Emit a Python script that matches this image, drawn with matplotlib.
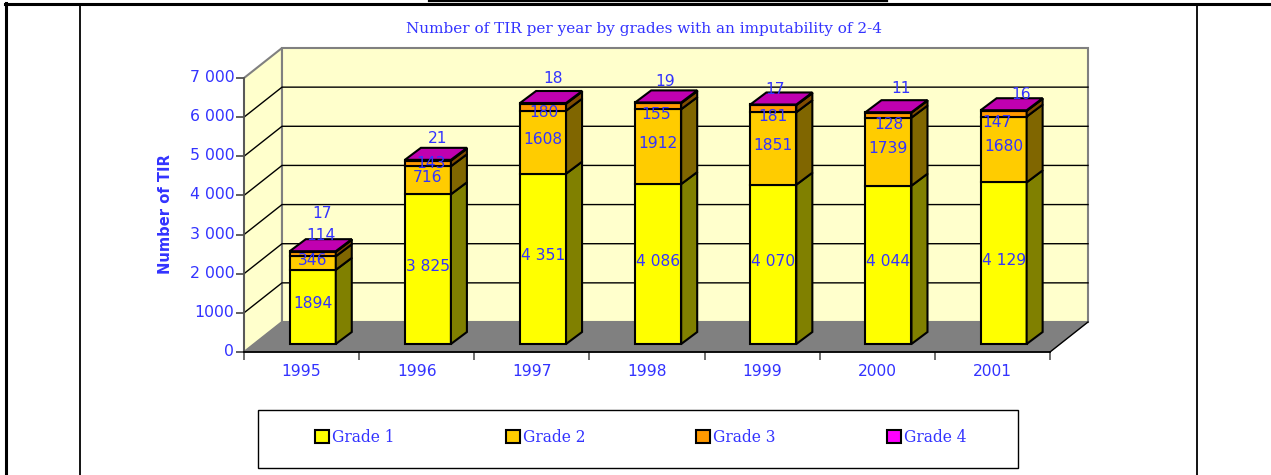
import numpy as np
import matplotlib
matplotlib.use('Agg')
import matplotlib.pyplot as plt
from matplotlib.patches import Patch, Rectangle
from matplotlib.lines import Line2D
from matplotlib.transforms import ScaledTranslation

years = ['1995', '1996', '1997', '1998', '1999', '2000', '2001']
grade1 = [1894, 3825, 4351, 4086, 4070, 4044, 4129]
grade2 = [346, 716, 1608, 1912, 1851, 1739, 1680]
grade3 = [114, 143, 180, 155, 181, 128, 147]
grade4 = [17, 21, 18, 19, 17, 11, 16]
labels1 = ['1894', '3 825', '4 351', '4 086', '4 070', '4 044', '4 129']
labels2 = ['346', '716', '1608', '1912', '1851', '1739', '1680']
labels3 = ['114', '143', '180', '155', '181', '128', '147']
labels4 = ['17', '21', '18', '19', '17', '11', '16']
series_names = ['Grade 1', 'Grade 2', 'Grade 3', 'Grade 4']
ytick_values = [0, 1000, 2000, 3000, 4000, 5000, 6000, 7000]
ytick_labels = ['0', '1000', '2 000', '3 000', '4 000', '5 000', '6 000', '7 000']
title = 'Number of TIR per year by grades with an imputability of 2-4'
ylabel = 'Number of TIR'

W, H = 1271, 475
BLUE = '#3333FF'
front = ['#FFFF00', '#FFCC00', '#FF9900', '#FF00FF']
side = ['#808000', '#806600', '#804C00', '#800080']
top_col = '#C000B0'
wall = '#FFFFCC'
floor = '#808080'

fig = plt.figure(figsize=(W / 100, H / 100), dpi=100)
fig.patch.set_facecolor('white')


def fx(px):
    return px / W


def fy(py):
    return 1 - py / H


# page table lines
for x0, y0, x1, y1, lw in [(5, 4, W, 4, 2.2), (6, 3, 6, H, 2.2), (80, 4, 80, H, 1.3),
                           (1197, 4, 1197, H, 1.3), (429, 1, 887, 1, 1.6)]:
    fig.add_artist(Line2D([fx(x0), fx(x1)], [fy(y0), fy(y1)], color='black', lw=lw))

ax = fig.add_axes([fx(244), fy(352), 806 / W, 274 / H])
ax.set_xlim(0, 7)
ax.set_ylim(0, 7000)
ax.patch.set_visible(False)
for s in ['top', 'right']:
    ax.spines[s].set_visible(False)
ax.spines['left'].set_color('#555555')
ax.spines['left'].set_linewidth(1.3)
ax.spines['bottom'].set_color('black')
ax.spines['bottom'].set_linewidth(1.3)
ax.spines['left'].set_zorder(6)
ax.spines['bottom'].set_zorder(6)

# px to data units
ux = 7 / 806
uy = 7000 / 274
dep_x = 38 * ux
dep_y = 30 * uy
bar_w = 46 * ux
bar_dx = 8 * ux * 1.4
bar_dep_x = 16 * ux
bar_dep_y = 12 * uy
base = 8 * uy

# walls and floor
ax.fill([0, dep_x, dep_x, 0], [0, dep_y, 7000 + dep_y, 7000], fc=wall, ec='#808080', lw=1.5, clip_on=False, zorder=1)
ax.fill([dep_x, 7 + dep_x, 7 + dep_x, dep_x], [dep_y, dep_y, 7000 + dep_y, 7000 + dep_y],
        fc=wall, ec='#808080', lw=1.5, clip_on=False, zorder=1)
ax.fill([0, dep_x, 7 + dep_x, 7], [0, dep_y, dep_y, 0], fc=floor, ec=floor, lw=0.5, clip_on=False, zorder=2)
ax.plot([7, 7 + dep_x], [0, dep_y], color='black', lw=1, clip_on=False, zorder=3)
for v in ytick_values[1:-1]:
    ax.plot([0, dep_x, 7 + dep_x], [v, v + dep_y, v + dep_y], color='black', lw=1, clip_on=False, zorder=2)

# stacked bars with the 3d side and top faces
series = [grade1, grade2, grade3, grade4]
xs = np.arange(len(years)) + 0.5 + bar_dx
bottoms = np.full(len(years), base)
for k, vals in enumerate(series):
    vals = np.array(vals, dtype=float)
    ax.bar(xs, vals, bar_w, bottom=bottoms, color=front[k], edgecolor='black', lw=1.5, clip_on=False, zorder=4)
    for x, b, v in zip(xs, bottoms, vals):
        r = x + bar_w / 2
        ax.fill([r, r + bar_dep_x, r + bar_dep_x, r], [b, b + bar_dep_y, b + v + bar_dep_y, b + v],
                fc=side[k], ec='black', lw=1.5, clip_on=False, zorder=4)
    bottoms = bottoms + vals
for x, t in zip(xs, bottoms):
    l = x - bar_w / 2
    r = x + bar_w / 2
    ax.fill([l, r, r + bar_dep_x, l + bar_dep_x], [t, t, t + bar_dep_y, t + bar_dep_y],
            fc=top_col, ec='black', lw=1.5, clip_on=False, zorder=4)

# value labels, centred on their segment then nudged (pixels)
nudge_x = [[0] * 7, [0] * 7, [8, 3, 1, -2, 0, 0, -7], [9, 10, 10, 7, 2, 13, 17]]
nudge_y = [[3] * 7, [3] * 7, [19, 0, -5, -8, -8, -9, -9], [38, 22, 25, 21, 15, 24, 16]]
all_labels = [labels1, labels2, labels3, labels4]
bottoms = np.full(len(years), base)
for k, vals in enumerate(series):
    vals = np.array(vals, dtype=float)
    for i, x in enumerate(xs):
        ax.annotate(all_labels[k][i], (x, bottoms[i] + vals[i] / 2),
                    xytext=(nudge_x[k][i] * 0.72, nudge_y[k][i] * 0.72), textcoords='offset points',
                    ha='center', va='center', color=BLUE, fontsize=11.2, zorder=8, annotation_clip=False)
    bottoms = bottoms + vals

# axes ticks
ax.set_yticks(ytick_values)
ax.set_yticklabels(ytick_labels, color=BLUE, fontsize=11.3)
ax.tick_params(axis='y', length=6, width=1.2, color='#444444', pad=1)
ax.set_xticks(np.arange(8))
ax.set_xticklabels([])
ax.tick_params(axis='x', which='major', length=6, width=1.2, color='#555555')
ax.set_xticks(np.arange(7) + 0.5, minor=True)
ax.set_xticklabels(years, minor=True, color=BLUE, fontsize=11.2)
ax.tick_params(axis='x', which='minor', length=0, pad=9)
up = ScaledTranslation(0, 2 / 100, fig.dpi_scale_trans)
for t in ax.get_yticklabels():
    t.set_transform(t.get_transform() + up)

fig.text(fx(644), fy(29), title, color=BLUE, family='DejaVu Serif', fontsize=11, ha='center', va='center')
fig.text(fx(165), fy(214), ylabel, color=BLUE, fontweight='bold', fontsize=10.6, rotation=90, ha='center', va='center')

# legend
fig.add_artist(Rectangle((fx(258), fy(468)), 760 / W, 58 / H, fc='white', ec='black', lw=1, transform=fig.transFigure))
handles = [Patch(fc=c, ec='black', lw=1.5) for c in front]
leg = fig.legend(handles, series_names, ncol=4, frameon=False, loc='center left',
                 bbox_to_anchor=(fx(315), fy(437)), handlelength=0.9, handleheight=0.9, handletextpad=0.2,
                 columnspacing=7.13, borderpad=0, borderaxespad=0,
                 prop={'family': 'DejaVu Serif', 'size': 11.2})
for t in leg.get_texts():
    t.set_color(BLUE)

fig.savefig('out.png', dpi=100)
